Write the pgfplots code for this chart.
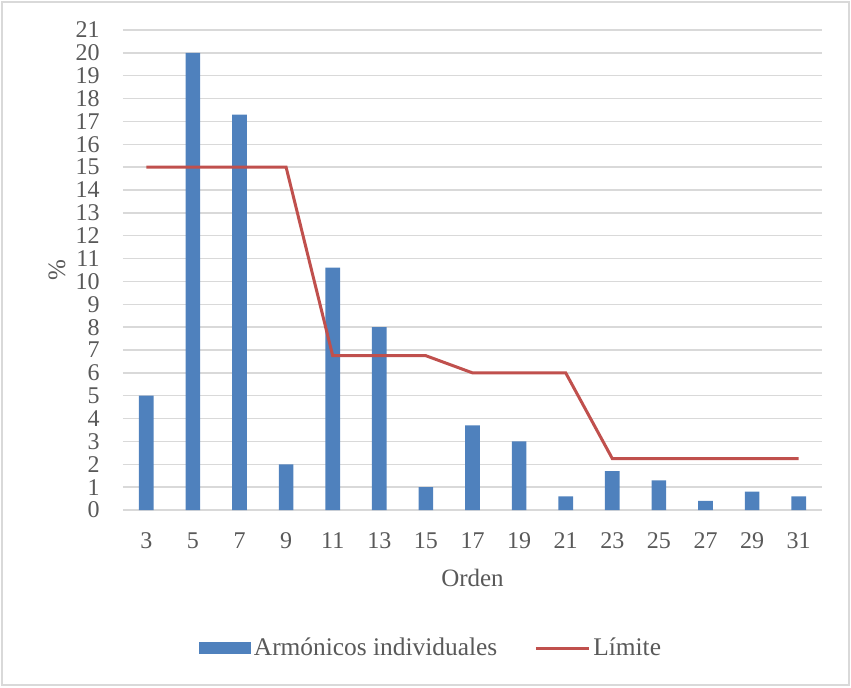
\documentclass[border=0pt]{standalone}
\usepackage{fontspec}
\setmainfont{Liberation Serif}
\usepackage{pgfplots}
\pgfplotsset{compat=1.18}
\definecolor{barblue}{HTML}{4F81BD}
\definecolor{linered}{HTML}{C0504D}
\definecolor{gridgray}{HTML}{D9D9D9}
\definecolor{textgray}{HTML}{595959}
\begin{document}
\begin{tikzpicture}
\path (0pt,0pt) rectangle (425.5pt,343.5pt);
\draw[gridgray, line width=0.75pt] (1pt,1pt) rectangle (424.5pt,342.5pt);
\begin{axis}[
  at={(61.5pt,88.5pt)}, anchor=south west,
  scale only axis, width=349.5pt, height=240pt,
  xmin=2, xmax=32, ymin=0, ymax=21,
  xtick={3,5,...,31}, ytick={0,1,...,21},
  ymajorgrids, grid style={gridgray, line width=0.65pt},
  axis line style={draw=none}, major tick length=0pt,
  tick label style={font=\fontsize{12}{14}\selectfont, text=textgray, inner sep=0pt},
  /pgf/number format/assume math mode=true,
  yticklabel shift=11.5pt, xticklabel shift=11pt,
  xlabel={Orden}, ylabel={\%},
  label style={font=\fontsize{12.5}{14}\selectfont, text=textgray},
  xlabel style={at={(axis description cs:0.5,-0.1417)}, anchor=center},
  ylabel style={at={(axis description cs:-0.0944,0.5)}, anchor=center},
  legend columns=2,
  legend style={at={(axis description cs:0.4413,-0.2875)}, anchor=center, draw=none,
    font=\fontsize{12.7}{14}\selectfont, text=textgray,
    nodes={inner sep=1.5pt},
    /tikz/every even column/.append style={column sep=17pt}},
]
\addplot[ybar, bar width=0.627, fill=barblue, draw=none,
  legend image code/.code={\fill[barblue] (0pt,-3pt) rectangle (26pt,3pt);}]
  coordinates {(3,5) (5,20) (7,17.3) (9,2) (11,10.6) (13,8) (15,1) (17,3.7) (19,3) (21,0.6) (23,1.7) (25,1.3) (27,0.4) (29,0.8) (31,0.6)};
\addlegendentry{Armónicos individuales}
\addplot[linered, line width=1.5pt, mark=none,
  legend image code/.code={\draw[linered, line width=1.5pt] (0pt,0pt) -- (26.5pt,0pt);}]
  coordinates {(3,15) (5,15) (7,15) (9,15) (11,6.75) (13,6.75) (15,6.75) (17,6) (19,6) (21,6) (23,2.25) (25,2.25) (27,2.25) (29,2.25) (31,2.25)};
\addlegendentry{Límite}
\end{axis}
\end{tikzpicture}
\end{document}
